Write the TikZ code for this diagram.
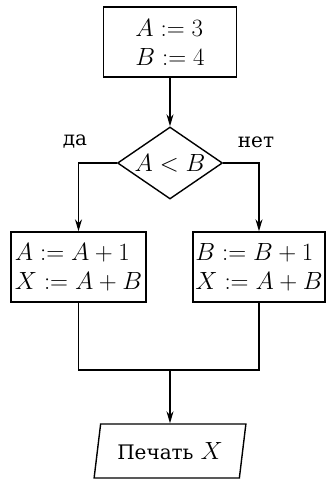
\documentclass[tikz,border=0pt]{standalone}
\usepackage{fontspec}
\newfontfamily\cyr{DejaVu Serif}
\usetikzlibrary{shapes.geometric,arrows.meta}
\begin{document}
\begin{tikzpicture}[x=1pt,y=-1pt,line width=1.4pt,
  every node/.style={font=\fontsize{23}{29}\selectfont},
  procbox/.style={draw,rectangle,minimum height=70pt,inner sep=2pt,align=left},
  decision/.style={draw,diamond,aspect=1.46,minimum width=105pt,minimum height=72pt,inner sep=0pt},
  iobox/.style={draw,trapezium,trapezium left angle=74,trapezium right angle=106,trapezium stretches=true,minimum width=152pt,minimum height=54pt,inner sep=0pt},
  lbl/.style={font=\cyr\fontsize{20}{24}\selectfont,inner sep=0pt},
  arr/.style={-{Stealth[length=12pt,width=7pt]}}]
\useasboundingbox (0,0) rectangle (326,479);
\node[procbox,minimum width=133pt] (init) at (170,42) {$A := 3$\\$B := 4$};
\node[decision] (cond) at (170,163) {$A < B$};
\node[procbox,minimum width=135pt] (yes) at (78.5,267) {$A := A + 1$\\$X := A + B$};
\node[procbox,minimum width=132pt] (no) at (259,267) {$B := B + 1$\\$X := A + B$};
\node[iobox] (out) at (170,451) {{\cyr\fontsize{20}{24}\selectfont Печать} $X$};
\node[lbl] (yeslbl) at (75,142) {да};
\node[lbl] (nolbl) at (256,142) {нет};
\coordinate (jl) at (78.5,370);
\coordinate (jr) at (259,370);
\coordinate (jm) at (170,370);
\draw[arr] (init) -- (cond);
\draw[arr] (cond.west) -| (yes.north);
\draw[arr] (cond.east) -| (no.north);
\draw (yes.south) -- (jl) -- (jr) -- (no.south);
\draw[arr] (jm) -- (out);
\end{tikzpicture}
\end{document}
